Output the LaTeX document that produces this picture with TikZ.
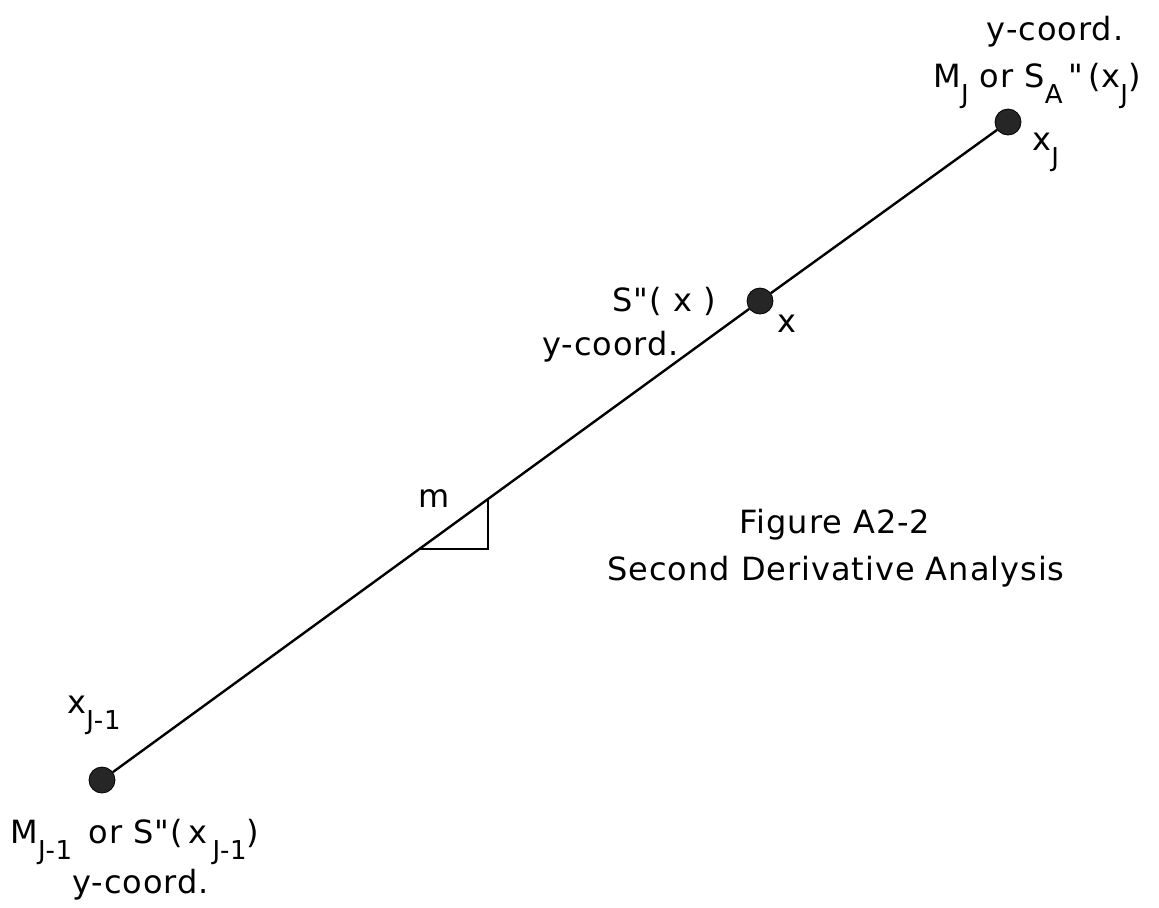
\documentclass[tikz,border=0pt]{standalone}
\usepackage{fontspec}
\setmainfont{DejaVu Sans}[LetterSpace=3, Ligatures=TeXOff]
\usepackage{tikz}
\usetikzlibrary{calc}
\newcommand{\labfont}{\fontsize{16}{19}\selectfont}
\newcommand{\subfont}{\fontsize{13}{15}\selectfont}
\newcommand{\low}[1]{\raisebox{-0.52em}{\subfont #1}}

\begin{document}
\begin{tikzpicture}[x=0.5pt, y=-0.5pt, font=\labfont,
  spot/.style={circle, fill=black!85, draw=black, minimum size=13pt, inner sep=0pt},
  lbl/.style={inner sep=0pt}]
  \useasboundingbox (0,0) rectangle (1159,907);
  % the three points on the line
  \node[spot] (xjm) at (102,780) {};
  \node[spot] (xm) at (760,301) {};
  \node[spot] (xj) at (1008,122) {};
  \draw[line width=1.2pt] (xjm) -- (xm) -- (xj);
  % slope triangle
  \coordinate (mA) at ($(xjm)!0.351!(xj)$);
  \coordinate (mB) at ($(xjm)!0.426!(xj)$);
  \draw[line width=0.8pt] (mA) -- (mA -| mB) -- (mB);
  \node[lbl, anchor=base west] (mlab) at (418,507) {m};
  % upper end
  \node[lbl, anchor=base] (ytop) at (1055,40) {y-coord.};
  \node[lbl, anchor=base] (mtop) at (1037,87) {M\low{J} or S\low{A}\,"\,(x\low{J})};
  \node[lbl, anchor=base west] (xjlab) at (1032,150) {x\low{J}};
  % point x
  \node[lbl, anchor=base east] (sx) at (716,311) {S"( x )};
  \node[lbl, anchor=base west] (ymid) at (542,355) {y-coord.};
  \node[lbl, anchor=base west] (xlab) at (777,332) {x};
  % lower end
  \node[lbl, anchor=base west] (xjmlab) at (67,713) {x\low{J-1}};
  \node[lbl, anchor=base west] (mbot) at (10,843) {M\low{J-1}\, or S"(\,x\,\low{J-1})};
  \node[lbl, anchor=base west] (ybot) at (72,893) {y-coord.};
  % caption
  \node[lbl, anchor=base] (fig) at (835,533) {Figure A2-2};
  \node[lbl, anchor=base] (cap) at (836,580) {Second Derivative Analysis};
\end{tikzpicture}
\end{document}
